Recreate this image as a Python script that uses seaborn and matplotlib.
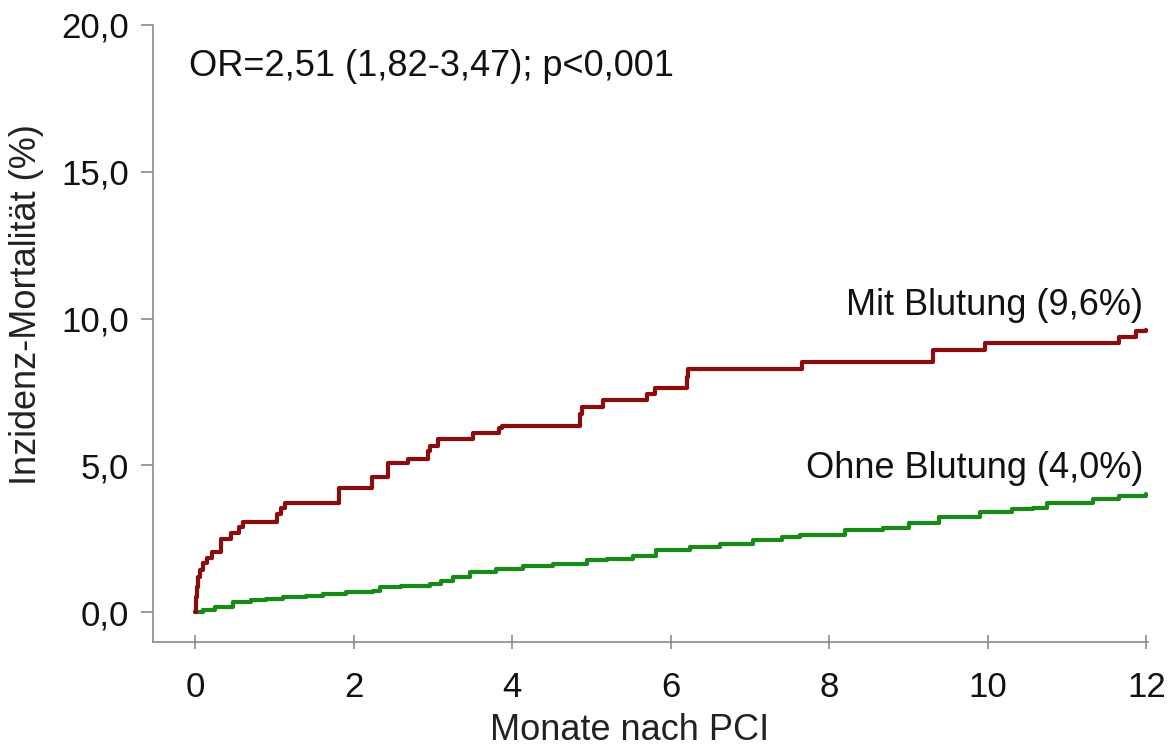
import numpy as np
import pandas as pd
import matplotlib
matplotlib.use("Agg")
import matplotlib.pyplot as plt
import seaborn as sns

# --- data ---
mit_months = [0, 0.01, 0.02, 0.04, 0.06, 0.10, 0.15, 0.22, 0.33, 0.46, 0.56, 0.61,
              1.03, 1.09, 1.14, 1.81, 2.23, 2.44, 2.69, 2.94, 2.97, 3.07, 3.51,
              3.83, 3.87, 4.86, 4.88, 5.15, 5.70, 5.80, 6.20, 6.22, 7.65, 9.31,
              9.96, 11.66, 11.87, 12.0]
mit_pct = [0, 0.5, 0.86, 1.2, 1.43, 1.67, 1.85, 2.05, 2.48, 2.70, 2.91, 3.08,
           3.34, 3.55, 3.72, 4.21, 4.61, 5.07, 5.21, 5.48, 5.67, 5.88, 6.09,
           6.26, 6.34, 6.75, 7.0, 7.22, 7.42, 7.62, 8.0, 8.28, 8.51, 8.93,
           9.18, 9.38, 9.58, 9.6]

ohne_months = [0, 0.1, 0.25, 0.48, 0.7, 0.9, 1.11, 1.4, 1.62, 1.9, 2.25, 2.33,
               2.6, 2.96, 3.1, 3.25, 3.47, 3.8, 4.14, 4.52, 4.94, 5.2, 5.53,
               5.82, 6.24, 6.62, 7.04, 7.4, 7.63, 8.2, 8.68, 9.0, 9.39, 9.9,
               10.3, 10.57, 10.74, 11.33, 11.66, 12.0]
ohne_pct = [0, 0.08, 0.18, 0.33, 0.40, 0.46, 0.52, 0.56, 0.62, 0.68, 0.72, 0.84,
            0.88, 0.94, 1.05, 1.18, 1.35, 1.45, 1.58, 1.64, 1.77, 1.82, 1.92,
            2.10, 2.22, 2.32, 2.45, 2.55, 2.62, 2.78, 2.86, 3.05, 3.25, 3.42,
            3.52, 3.55, 3.72, 3.84, 3.94, 4.02]

x_ticks = [0, 2, 4, 6, 8, 10, 12]
y_ticks = [0, 5, 10, 15, 20]
y_tick_labels = ["0,0", "5,0", "10,0", "15,0", "20,0"]

label_mit = "Mit Blutung (9,6%)"
label_ohne = "Ohne Blutung (4,0%)"
stat_text = "OR=2,51 (1,82-3,47); p<0,001"
xlabel = "Monate nach PCI"
ylabel = "Inzidenz-Mortalität (%)"

sns.set_style("white")
plt.rcParams['font.family'] = ['Liberation Sans', 'DejaVu Sans']

fig = plt.figure(figsize=(11.75, 7.49), dpi=100)
ax = fig.add_axes([153/1175, 1 - 642/749, (1148 - 153)/1175, (642 - 25)/749])

df_mit = pd.DataFrame({"m": mit_months, "p": mit_pct})
df_ohne = pd.DataFrame({"m": ohne_months, "p": ohne_pct})

sns.lineplot(data=df_ohne, x="m", y="p", ax=ax, color="#178a17", lw=3,
             drawstyle="steps-post", estimator=None, sort=False)
sns.lineplot(data=df_mit, x="m", y="p", ax=ax, color="#8b0c0c", lw=3,
             drawstyle="steps-post", estimator=None, sort=False)

ax.set_xlim(-0.53, 12.02)
ax.set_ylim(-1.02, 20)
ax.set_xticks(x_ticks)
ax.set_xticklabels([str(v) for v in x_ticks])
ax.set_yticks(y_ticks)
ax.set_yticklabels(y_tick_labels)

for side in ["top", "right"]:
    ax.spines[side].set_visible(False)
for side in ["left", "bottom"]:
    ax.spines[side].set_color("#8a8a8a")
    ax.spines[side].set_linewidth(1.2)

ax.tick_params(axis="y", left=True, direction="out", length=9, width=1.2,
               color="#8a8a8a", labelsize=25, labelcolor="#111111", pad=8)
ax.tick_params(axis="x", bottom=True, direction="inout", length=10, width=1.2,
               color="#8a8a8a", labelsize=25, labelcolor="#111111", pad=16)

ax.set_xlabel(xlabel, fontsize=26, color="#222222")
ax.set_ylabel(ylabel, fontsize=26, color="#222222")
ax.xaxis.set_label_coords((630 - 153)/995, (642 - 731)/617)
ax.xaxis.label.set_va("center")
ax.yaxis.set_label_coords((27 - 153)/995, (642 - 305)/617)
ax.yaxis.label.set_va("center")

ax.text(-0.07, 18.6, stat_text, fontsize=26, color="#111111", va="center", ha="left")
ax.text(11.96, 10.45, label_mit, fontsize=26, color="#111111", va="center", ha="right")
ax.text(11.96, 4.9, label_ohne, fontsize=26, color="#111111", va="center", ha="right")

fig.savefig("out.png", dpi=100)
